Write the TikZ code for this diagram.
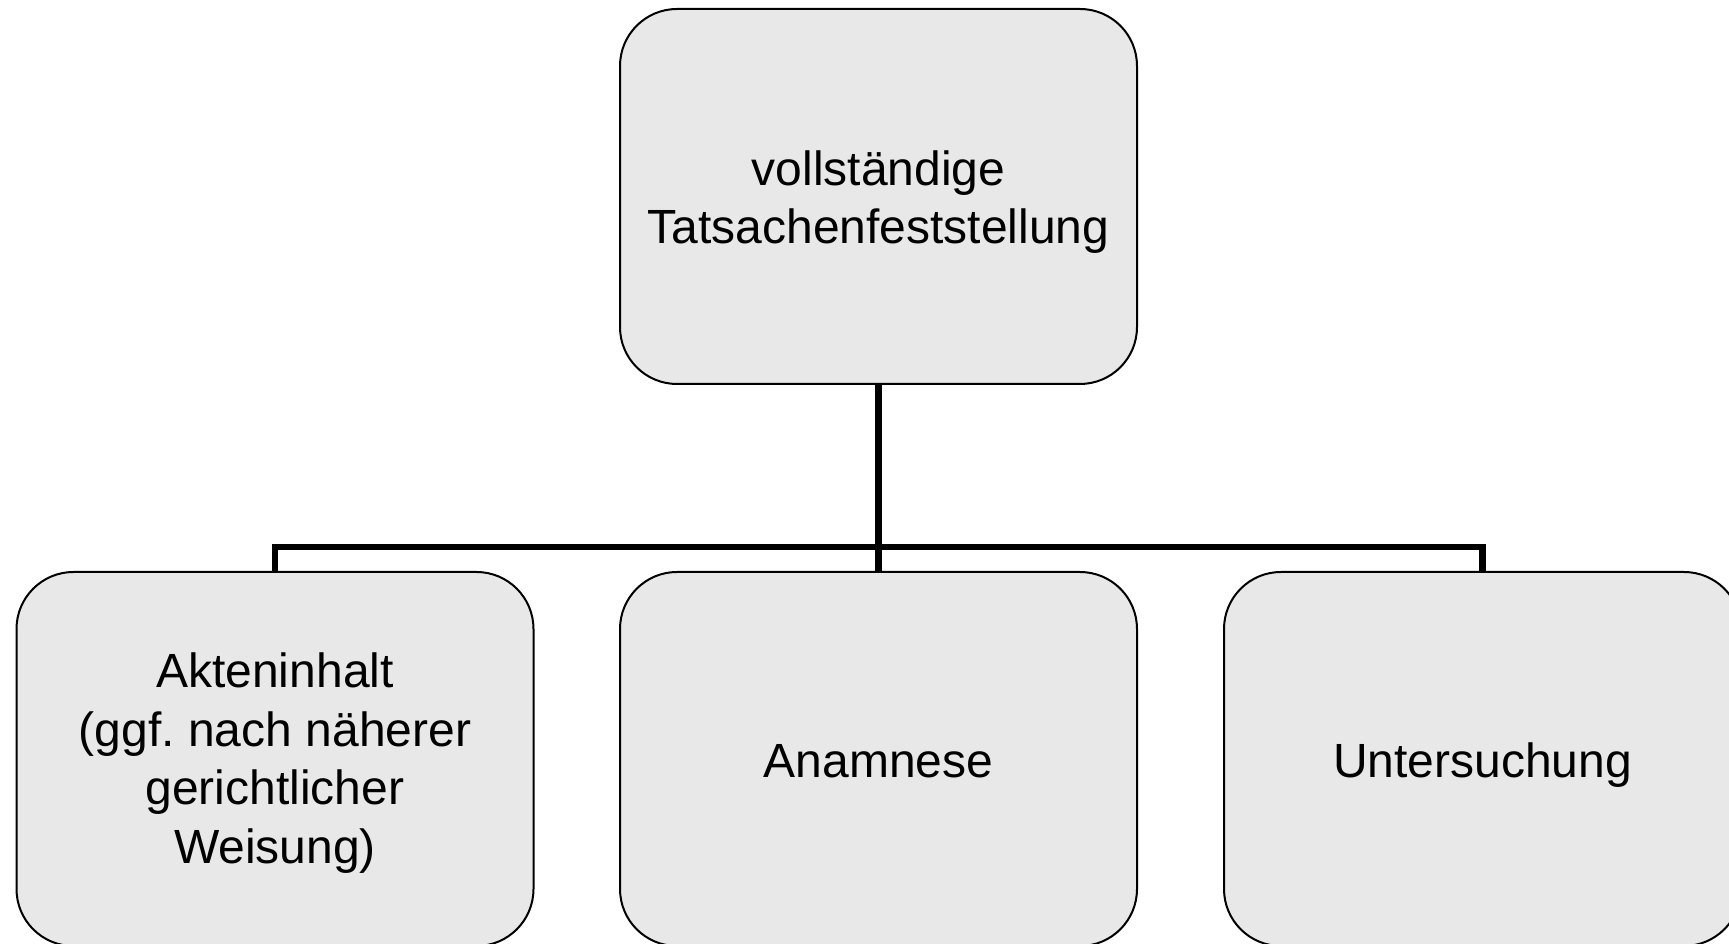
\documentclass[tikz,border=0pt]{standalone}
\usepackage{fontspec}
\setmainfont{Liberation Sans}
\frenchspacing
\definecolor{boxfill}{HTML}{E8E8E8}
\tikzset{
  box/.style={draw=black, line width=2pt, fill=boxfill, rounded corners=57pt,
    align=center, inner sep=0pt, font=\fontsize{48}{58.5}\selectfont,
    minimum width=517pt},
  single/.style={text height=38pt, text depth=0pt},
  conn/.style={draw=black, line width=6.8pt, line join=miter, line cap=butt}
}
\begin{document}
\begin{tikzpicture}[x=1pt,y=1pt]
\useasboundingbox (0,0) rectangle (1729,944);
\fill[white] (0,0) rectangle (1729,944);
\clip (0,0) rectangle (1729,944);
\node[box, minimum height=375pt] (top) at (878.5,747.5) {\rule{0pt}{46pt}vollständige\\Tatsachenfeststellung};
\node[box, minimum height=374pt] (left) at (275,185) {\rule{0pt}{43pt}Akteninhalt\\(ggf. nach näherer\\gerichtlicher\\Weisung)};
\node[box, single, minimum height=374pt] (mid) at (878.5,185) {Anamnese};
\node[box, single, minimum height=374pt] (right) at (1482.5,185) {Untersuchung};
\coordinate (j) at (878.5,397);
\draw[conn] (top.south) -- (mid.north);
\draw[conn] (left.north) |- (j) -| (right.north);
\end{tikzpicture}
\end{document}
